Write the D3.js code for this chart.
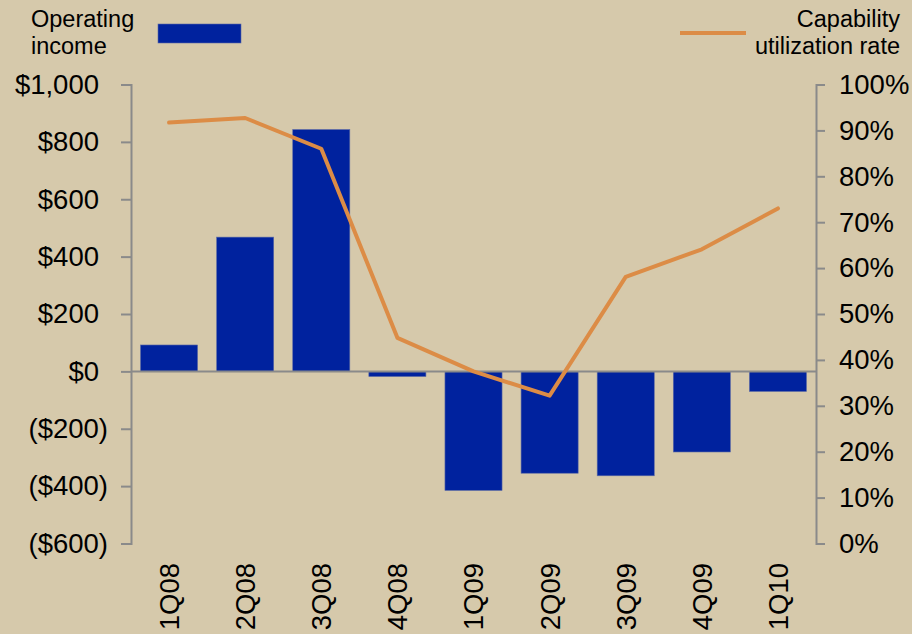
<!DOCTYPE html>
<html>
<head>
<meta charset="utf-8">
<script src="https://cdn.jsdelivr.net/npm/d3@7"></script>
<style>
  html, body { margin: 0; padding: 0; background: #d6c9ab; }
  svg { display: block; font-family: "Liberation Sans", Arial, sans-serif; }
</style>
</head>
<body>
<div id="container"></div>
<script>
"use strict";

const quarters = ["1Q08", "2Q08", "3Q08", "4Q08", "1Q09", "2Q09", "3Q09", "4Q09", "1Q10"];
// Operating income, $
const operatingIncome = [92, 468, 843, -18, -415, -355, -364, -281, -70];
// Capability utilization rate, fraction
const utilization = [0.917, 0.927, 0.86, 0.448, 0.375, 0.322, 0.581, 0.641, 0.73];

const incomeTicks = [-600, -400, -200, 0, 200, 400, 600, 800, 1000];
const rateTicks = [0, 0.1, 0.2, 0.3, 0.4, 0.5, 0.6, 0.7, 0.8, 0.9, 1];

const width = 912;
const height = 634;
const axisColor = "#8a8a8a";
const barColor = "#00229e";
const lineColor = "#dc8c46";
const fontSize = 27.5;

const x = d3.scaleBand().domain(quarters).range([131, 816]).paddingInner(0.25).paddingOuter(0.125);
const yLeft = d3.scaleLinear().domain([-600, 1000]).range([543.5, 84.5]);
const yRight = d3.scaleLinear().domain([0, 1]).range([543.5, 84.5]);

const fmtMoney = (d) => {
  const s = "$" + d3.format(",")(Math.abs(d));
  return d < 0 ? "(" + s + ")" : s;
};

const svg = d3.select("#container").append("svg").attr("width", width).attr("height", height);

// Bars
svg.append("g")
  .selectAll("rect")
  .data(quarters.map((q, i) => ({ q, v: operatingIncome[i] })))
  .join("rect")
  .attr("x", (d) => x(d.q))
  .attr("y", (d) => yLeft(Math.max(0, d.v)))
  .attr("width", x.bandwidth())
  .attr("height", (d) => Math.abs(yLeft(d.v) - yLeft(0)))
  .attr("fill", barColor)
  .attr("stroke", "#5c6aa6")
  .attr("stroke-width", 0.6);

// Zero baseline
svg.append("line")
  .attr("x1", 131).attr("x2", 816)
  .attr("y1", yLeft(0)).attr("y2", yLeft(0))
  .attr("stroke", axisColor).attr("stroke-width", 2);

// Left axis
const gLeft = svg.append("g")
  .attr("transform", "translate(131,0)")
  .call(d3.axisLeft(yLeft).tickValues(incomeTicks).tickFormat(fmtMoney).tickSize(10).tickPadding(13));
gLeft.selectAll("path, line").attr("stroke", axisColor).attr("stroke-width", 2);
gLeft.selectAll("text")
  .style("font-size", fontSize + "px")
  .attr("fill", "#000")
  .attr("x", (d) => (d < 0 ? -23 : -32));

// Right axis
const gRight = svg.append("g")
  .attr("transform", "translate(816,0)")
  .call(d3.axisRight(yRight).tickValues(rateTicks).tickFormat(d3.format(".0%")).tickSize(9).tickPadding(14));
gRight.selectAll("path, line").attr("stroke", axisColor).attr("stroke-width", 2);
gRight.selectAll("text").style("font-size", fontSize + "px").attr("fill", "#000");

// Category labels
const gBottom = svg.append("g")
  .attr("transform", "translate(0,544)")
  .call(d3.axisBottom(x).tickSize(0));
gBottom.select(".domain").remove();
gBottom.selectAll("text")
  .style("font-size", fontSize + "px")
  .attr("fill", "#000")
  .attr("transform", "rotate(-90)")
  .attr("text-anchor", "end")
  .attr("x", -19)
  .attr("y", 0)
  .attr("dy", "0.36em");

// Utilization line
const line = d3.line()
  .x((d, i) => x(quarters[i]) + x.bandwidth() / 2)
  .y((d) => yRight(d));
svg.append("path")
  .datum(utilization)
  .attr("d", line)
  .attr("fill", "none")
  .attr("stroke", lineColor)
  .attr("stroke-width", 4)
  .attr("stroke-linejoin", "round")
  .attr("stroke-linecap", "round");

// Legend
const legend = svg.append("g").style("font-size", "23.5px").attr("fill", "#000");
legend.append("text").attr("x", 31).attr("y", 27).text("Operating");
legend.append("text").attr("x", 31).attr("y", 54).text("income");
legend.append("rect").attr("x", 158).attr("y", 24).attr("width", 83).attr("height", 19)
  .attr("fill", barColor).attr("stroke", "#5c6aa6").attr("stroke-width", 0.6);

legend.append("line").attr("x1", 680).attr("x2", 746).attr("y1", 33).attr("y2", 33)
  .attr("stroke", lineColor).attr("stroke-width", 4);
legend.append("text").attr("x", 900).attr("y", 27).attr("text-anchor", "end").text("Capability");
legend.append("text").attr("x", 900).attr("y", 54).attr("text-anchor", "end").text("utilization rate");
</script>
</body>
</html>
